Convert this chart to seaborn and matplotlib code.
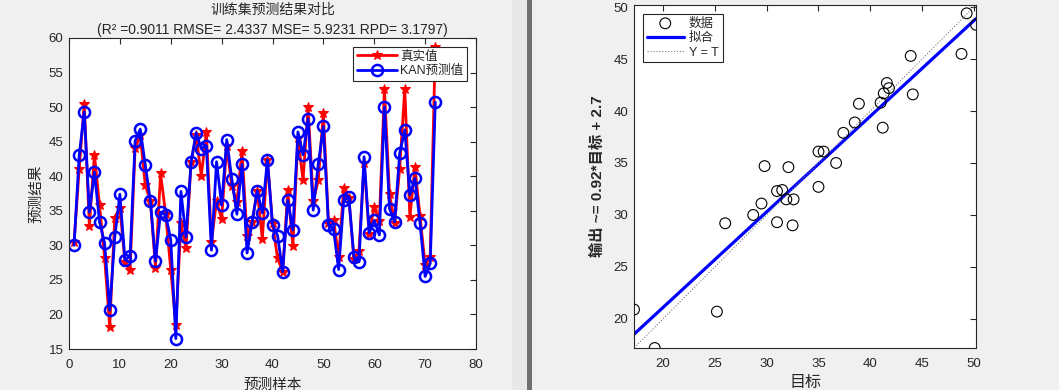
import numpy as np
import pandas as pd
import matplotlib
matplotlib.use("Agg")
import matplotlib.pyplot as plt
import seaborn as sns
from matplotlib.patches import Rectangle

# ---------------- data ----------------
sample_idx = list(range(1, 73))
true_values = [30.5, 41.0, 50.5, 32.8, 43.1, 35.8, 28.2, 18.2, 34.0, 35.4,
               27.6, 26.4, 44.1, 45.9, 38.7, 36.4, 26.7, 40.4, 34.5, 26.5,
               18.5, 33.2, 29.6, 42.1, 45.9, 40.0, 46.4, 30.5, 36.4, 33.8,
               44.4, 38.6, 36.2, 43.6, 31.3, 33.4, 37.9, 30.9, 42.3, 33.2,
               28.1, 26.2, 38.0, 29.9, 45.6, 39.4, 50.0, 36.4, 39.4, 49.2,
               33.3, 33.7, 28.3, 38.3, 36.9, 28.0, 29.2, 41.9, 31.7, 35.6,
               33.5, 52.6, 37.4, 33.3, 41.1, 52.6, 34.1, 41.3, 34.2, 27.2,
               28.3, 58.7]
kan_pred = [30.0, 43.0, 49.3, 34.8, 40.6, 33.4, 30.3, 20.6, 31.2, 37.4,
            27.9, 28.4, 45.1, 46.8, 41.6, 36.4, 27.7, 34.8, 34.4, 30.8,
            16.5, 37.8, 31.2, 42.1, 46.3, 44.0, 44.4, 29.3, 42.1, 35.8,
            45.3, 39.6, 34.5, 41.7, 28.9, 33.4, 37.9, 34.7, 42.4, 33.0,
            31.4, 26.2, 36.5, 32.2, 46.4, 43.1, 48.3, 35.1, 41.8, 47.2,
            33.0, 32.3, 26.5, 36.5, 37.0, 28.3, 27.6, 42.8, 31.8, 33.6,
            31.5, 50.0, 35.3, 33.4, 43.3, 46.7, 37.3, 39.7, 33.2, 25.5,
            27.4, 50.7]

reg_target = [17.2, 19.2, 25.2, 26.0, 28.7, 29.5, 29.8, 31.0, 31.0, 31.5,
              31.9, 32.1, 32.5, 32.6, 35.0, 35.5, 35.0, 36.7, 37.4, 38.5,
              38.9, 41.0, 41.2, 41.3, 41.6, 41.8, 43.9, 44.1, 48.8, 49.3,
              50.2]
reg_output = [20.9, 17.2, 20.7, 29.2, 30.0, 31.1, 34.7, 29.3, 32.3, 32.4,
              31.5, 34.6, 29.0, 31.5, 36.1, 36.1, 32.7, 35.0, 37.9, 38.9,
              40.7, 40.8, 38.4, 41.7, 42.7, 42.2, 45.3, 41.6, 45.5, 49.4,
              48.3]
FIT_SLOPE = 0.92
FIT_INTERCEPT = 2.7

left_xticks = list(range(0, 81, 10))
left_yticks = list(range(15, 61, 5))
right_ticks = list(range(20, 51, 5))

title_text = "训练集预测结果对比\n(R² =0.9011 RMSE= 2.4337 MSE= 5.9231 RPD= 3.1797)"

# ---------------- style ----------------
sns.set_style("white")
FONT = ['Liberation Sans', 'Noto Sans CJK SC', 'DejaVu Sans']
plt.rcParams['font.family'] = FONT
plt.rcParams['axes.unicode_minus'] = False
TXT = '#262626'

W, H = 1059, 390
fig = plt.figure(figsize=(W / 100, H / 100), dpi=100, facecolor='#f0f0f0')

def fax(l, r, t, b):
    return [l / W, 1 - b / H, (r - l) / W, (b - t) / H]

# window separator decoration
fig.patches.append(Rectangle((512 / W, 0), 15 / W, 1, transform=fig.transFigure,
                             facecolor='#e8e8e8', edgecolor='none', zorder=0))
fig.patches.append(Rectangle((527 / W, 0), 5 / W, 1, transform=fig.transFigure,
                             facecolor='#6f6f6f', edgecolor='none', zorder=0))

def style_axes(ax):
    ax.set_facecolor('white')
    for s in ax.spines.values():
        s.set_color(TXT)
        s.set_linewidth(0.8)
        s.set_visible(True)
    ax.tick_params(direction='in', top=True, right=True, length=4, width=0.8,
                   colors=TXT, labelsize=9.5, pad=4)
    ax.tick_params(axis='x', pad=7)

# ---------------- left: time series ----------------
ax1 = fig.add_axes(fax(69, 476, 38, 349))
df = pd.DataFrame({'idx': sample_idx, 'true': true_values, 'pred': kan_pred})
sns.lineplot(data=df, x='idx', y='true', ax=ax1, color='#ff0000', linewidth=2,
             marker='*', markersize=7, markeredgecolor='#ff0000',
             markerfacecolor='#ff0000', label='真实值', estimator=None, sort=False)
sns.lineplot(data=df, x='idx', y='pred', ax=ax1, color='#0000ff', linewidth=2,
             marker='o', markersize=8, markeredgecolor='#0000ff',
             markerfacecolor='none', markeredgewidth=1.8, label='KAN预测值',
             estimator=None, sort=False)
ax1.set_xlim(0, 80)
ax1.set_ylim(15, 60)
ax1.set_xticks(left_xticks)
ax1.set_yticks(left_yticks)
style_axes(ax1)
ax1.set_xlabel('预测样本', fontsize=10.5, color=TXT, labelpad=5)
ax1.set_ylabel('预测结果', fontsize=10.5, color=TXT, labelpad=4)
ax1.set_title(title_text, fontsize=10, color=TXT, pad=3, linespacing=1.55)
leg1 = ax1.legend(loc='upper right', fontsize=9, frameon=True, fancybox=False,
                  edgecolor=TXT, framealpha=1, borderpad=0.3, labelspacing=0.2,
                  handlelength=3.2, handletextpad=0.3, borderaxespad=0.7)
leg1.get_frame().set_linewidth(0.8)
for t in leg1.get_texts():
    t.set_color(TXT)

# ---------------- right: regression ----------------
ax2 = fig.add_axes(fax(634, 976, 5, 348))
lo = min(min(reg_target), min(reg_output))
hi = max(max(reg_target), max(reg_output))
sns.scatterplot(x=reg_target, y=reg_output, ax=ax2, marker='o', s=60,
                color='black', edgecolor='black', linewidth=0.8, label='数据',
                zorder=3)
ax2.collections[-1].set_facecolor('none')
line_x = np.array([lo, hi])
sns.lineplot(x=line_x, y=FIT_SLOPE * line_x + FIT_INTERCEPT, ax=ax2,
             color='#0000ff', linewidth=2.3, label='拟合')
sns.lineplot(x=line_x, y=line_x, ax=ax2, color='#7a7a7a', linewidth=0.8,
             linestyle=':', label='Y = T')
ax2.set_xlim(lo, hi)
ax2.set_ylim(lo, hi)
ax2.set_xticks(right_ticks)
ax2.set_yticks(right_ticks)
style_axes(ax2)
ax2.set_xlabel('目标', fontsize=11.5, color=TXT, labelpad=4)
ax2.set_ylabel('输出 ~= 0.92*目标 + 2.7', fontsize=11, color=TXT,
               fontweight='bold', labelpad=6)
leg2 = ax2.legend(loc='upper left', fontsize=9, frameon=True, fancybox=False,
                  edgecolor=TXT, framealpha=1, borderpad=0.3, labelspacing=0.2,
                  handlelength=3.0, handletextpad=0.4, borderaxespad=0.7)
leg2.get_frame().set_linewidth(0.8)
for t in leg2.get_texts():
    t.set_color(TXT)

fig.savefig('out.png', dpi=100, facecolor=fig.get_facecolor())
